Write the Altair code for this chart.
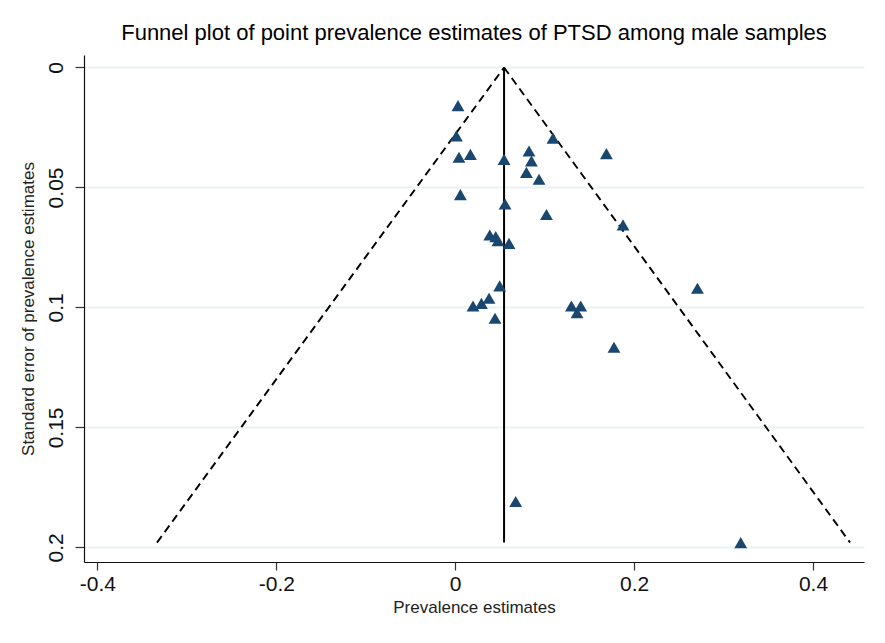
import altair as alt
import pandas as pd

# Study-level prevalence estimates and their standard errors
estimates = [0.0031, 0.0013, 0.1093, 0.0042, 0.0170, 0.0546, 0.0825, 0.0852, 0.0796,
             0.0937, 0.1690, 0.0058, 0.0557, 0.1020, 0.1876, 0.0386, 0.0453, 0.0478,
             0.0601, 0.0497, 0.0378, 0.0293, 0.0199, 0.0445, 0.1299, 0.1403, 0.1362,
             0.2708, 0.1775, 0.0676, 0.3192]
std_errors = [0.0159, 0.0285, 0.0295, 0.0374, 0.0362, 0.0383, 0.0348, 0.0390, 0.0437,
              0.0466, 0.0359, 0.0530, 0.0569, 0.0613, 0.0656, 0.0698, 0.0705, 0.0722,
              0.0733, 0.0910, 0.0962, 0.0983, 0.0994, 0.1045, 0.0994, 0.0994, 0.1022,
              0.0920, 0.1166, 0.1809, 0.1980]

# Pooled estimate line and pseudo 95% confidence limits (funnel)
pooled_x = [0.0546, 0.0546]
pooled_se = [0.0, 0.198]
lower_x = [0.0546, -0.3334]
upper_x = [0.0546, 0.4414]
limit_se = [0.0, 0.198]

x_ticks = [-0.4, -0.2, 0, 0.2, 0.4]
y_ticks = [0, 0.05, 0.1, 0.15, 0.2]

FONT = "Liberation Sans"
NAVY = "#1a476f"

pts = pd.DataFrame({"est": estimates, "se": std_errors})
pooled = pd.DataFrame({"est": pooled_x, "se": pooled_se})
limits = pd.DataFrame({
    "est": lower_x + upper_x,
    "se": limit_se + limit_se,
    "side": ["lower"] * 2 + ["upper"] * 2,
})

xscale = alt.Scale(domain=[-0.415, 0.457], nice=False, zero=False)
yscale = alt.Scale(domain=[-0.0052, 0.2061], nice=False, zero=False, reverse=True)

xaxis = alt.Axis(
    values=x_ticks, title="Prevalence estimates", grid=False,
    labelExpr="replace(format(datum.value, '~g'), '\u2212', '-')",
    labelFont=FONT, labelFontSize=21, labelColor="#111", labelPadding=3,
    titleFont=FONT, titleFontSize=17, titleFontWeight="normal", titleColor="#222",
    titlePadding=5, tickSize=8, tickColor="#333", tickWidth=1.2,
    domainColor="#111", domainWidth=1.2,
)
yaxis = alt.Axis(
    values=y_ticks, title="Standard error of prevalence estimates", grid=True,
    gridColor="#eaf2f3", gridWidth=2,
    labelExpr="format(datum.value, '~g')",
    labelAngle=270, labelAlign="center", labelBaseline="bottom",
    labelFont=FONT, labelFontSize=21, labelColor="#111", labelPadding=9,
    titleFont=FONT, titleFontSize=17, titleFontWeight="normal", titleColor="#222",
    titlePadding=8, tickSize=9, tickColor="#333", tickWidth=1.2,
    domainColor="#111", domainWidth=1.2,
)

funnel = alt.Chart(limits).mark_line(
    color="black", strokeWidth=1.9, strokeDash=[8, 5]
).encode(
    x=alt.X("est:Q", scale=xscale, axis=xaxis),
    y=alt.Y("se:Q", scale=yscale, axis=yaxis),
    detail="side:N",
)

pooled_line = alt.Chart(pooled).mark_line(color="black", strokeWidth=2).encode(
    x=alt.X("est:Q", scale=xscale),
    y=alt.Y("se:Q", scale=yscale),
)

points = alt.Chart(pts).mark_point(
    shape="triangle-up", filled=True, size=165, color=NAVY, opacity=1
).encode(
    x=alt.X("est:Q", scale=xscale),
    y=alt.Y("se:Q", scale=yscale),
)

chart = alt.layer(funnel, pooled_line, points).properties(
    width=780, height=507,
    title=alt.TitleParams(
        "Funnel plot of point prevalence estimates of PTSD among male samples",
        font=FONT, fontSize=22, fontWeight="normal", color="black",
        anchor="middle", offset=10,
    ),
    autosize=alt.AutoSizeParams(type="none"),
    padding={"left": 84, "top": 55, "right": 21, "bottom": 81},
    background="white",
).configure_view(stroke=None)

chart.save("out.html", embed_options={"renderer": "svg", "actions": False})
